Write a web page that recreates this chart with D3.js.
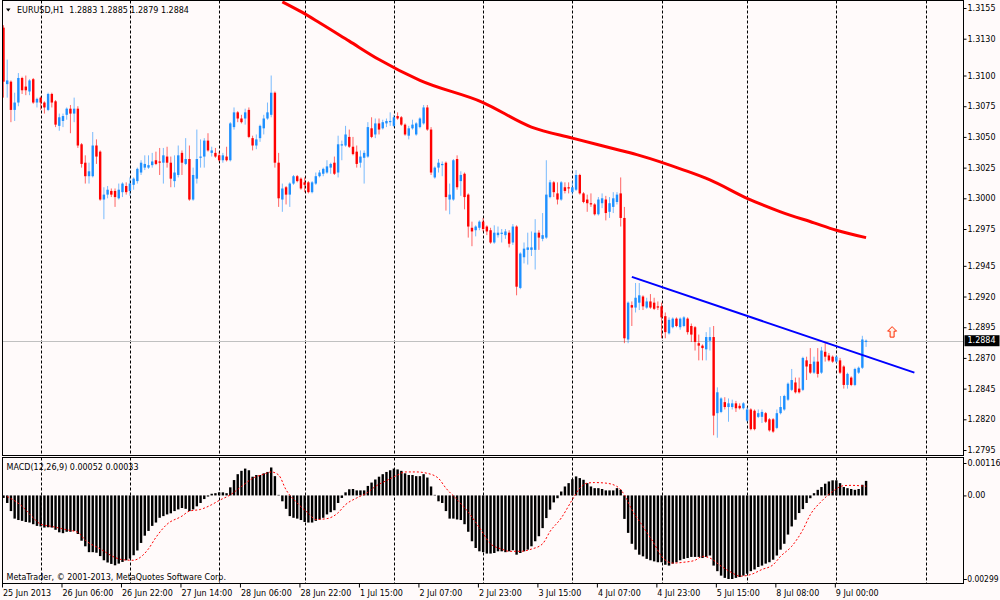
<!DOCTYPE html>
<html>
<head>
<meta charset="utf-8">
<script src="https://cdn.jsdelivr.net/npm/d3@7"></script>
<style>
  body { margin: 0; background: #fffafa; }
  svg text { font-family: Tahoma, "DejaVu Sans", sans-serif; font-size: 8px; fill: #000; }
</style>
</head>
<body>
<svg id="chart" width="1000" height="600"></svg>
<script>
// EURUSD H1, 233 bars from 25 Jun 14:00 to 9 Jul 08:00
const opens = [
  1.3139,1.3093,1.3095,1.3072,1.3078,1.3098,1.3091,1.3087,1.3097,1.3078,
  1.3082,1.3078,1.3072,1.3085,1.3079,1.3059,1.3063,1.3068,1.3073,1.3069,
  1.3073,1.3044,1.3029,1.3018,1.3018,1.3043,1.3038,1.2999,1.3003,1.3006,
  1.3006,1.3000,1.3005,1.3010,1.3006,1.3011,1.3014,1.3021,1.3025,1.3025,
  1.3027,1.3031,1.3030,1.3029,1.3034,1.3029,1.3014,1.3019,1.3037,1.3028,
  1.3032,1.2999,1.3016,1.3033,1.3034,1.3047,1.3037,1.3037,1.3035,1.3031,
  1.3034,1.3031,1.3058,1.3070,1.3065,1.3065,1.3072,1.3049,1.3043,1.3049,
  1.3057,1.3065,1.3068,1.3086,1.3029,1.2999,1.3009,1.3003,1.3012,1.3018,
  1.3016,1.3013,1.3013,1.3005,1.3012,1.3018,1.3020,1.3021,1.3025,1.3029,
  1.3021,1.3043,1.3043,1.3050,1.3042,1.3038,1.3029,1.3033,1.3034,1.3057,
  1.3052,1.3061,1.3057,1.3061,1.3062,1.3059,1.3067,1.3066,1.3060,1.3051,
  1.3057,1.3052,1.3058,1.3061,1.3074,1.3056,1.3017,1.3025,1.3027,1.3029,
  1.2999,1.2999,1.3032,1.3014,1.3020,1.3003,1.2976,1.2974,1.2976,1.2981,
  1.2977,1.2974,1.2964,1.2970,1.2971,1.2970,1.2972,1.2964,1.2977,1.2927,
  1.2952,1.2958,1.2958,1.2958,1.2972,1.2967,1.2968,1.3001,1.3013,1.3004,
  1.2999,1.3009,1.3009,1.3005,1.3007,1.3019,1.3004,1.2999,1.2996,1.2995,
  1.2987,1.2996,1.2999,1.2989,1.2993,1.2997,1.3004,1.2984,1.2885,1.2913,
  1.2911,1.2915,1.2920,1.2911,1.2916,1.2915,1.2912,1.2912,1.2904,1.2890,
  1.2895,1.2902,1.2895,1.2896,1.2902,1.2896,1.2895,1.2882,1.2880,1.2877,
  1.2884,1.2887,1.2825,1.2826,1.2834,1.2830,1.2830,1.2833,1.2831,1.2829,
  1.2819,1.2828,1.2827,1.2822,1.2822,1.2825,1.2820,1.2820,1.2813,1.2825,
  1.2828,1.2836,1.2844,1.2850,1.2845,1.2844,1.2868,1.2865,1.2858,1.2867,
  1.2858,1.2875,1.2872,1.2871,1.2867,1.2868,1.2863,1.2848,1.2854,1.2848,
  1.2858,1.2862,1.2883
];
const highs = [
  1.3141,1.3113,1.3096,1.3086,1.3102,1.3099,1.3100,1.3097,1.3098,1.3082,
  1.3083,1.3079,1.3086,1.3086,1.3080,1.3069,1.3069,1.3074,1.3076,1.3082,
  1.3075,1.3045,1.3035,1.3029,1.3054,1.3048,1.3039,1.3009,1.3010,1.3008,
  1.3008,1.3012,1.3013,1.3013,1.3017,1.3017,1.3025,1.3031,1.3035,1.3035,
  1.3037,1.3038,1.3041,1.3041,1.3042,1.3034,1.3035,1.3043,1.3039,1.3049,
  1.3043,1.3025,1.3056,1.3048,1.3049,1.3053,1.3042,1.3041,1.3038,1.3037,
  1.3042,1.3062,1.3074,1.3071,1.3068,1.3073,1.3074,1.3051,1.3052,1.3060,
  1.3068,1.3078,1.3100,1.3087,1.3037,1.3012,1.3010,1.3013,1.3019,1.3019,
  1.3017,1.3017,1.3014,1.3014,1.3021,1.3023,1.3025,1.3031,1.3029,1.3034,
  1.3051,1.3047,1.3059,1.3056,1.3050,1.3043,1.3039,1.3039,1.3062,1.3066,
  1.3065,1.3065,1.3064,1.3065,1.3070,1.3068,1.3070,1.3067,1.3061,1.3059,
  1.3064,1.3062,1.3066,1.3076,1.3076,1.3058,1.3026,1.3032,1.3030,1.3030,
  1.3012,1.3032,1.3035,1.3022,1.3021,1.3004,1.2981,1.2978,1.2982,1.2984,
  1.2978,1.2976,1.2978,1.2977,1.2975,1.2975,1.2974,1.2979,1.2978,1.2956,
  1.2964,1.2972,1.2973,1.2983,1.2974,1.2988,1.3031,1.3015,1.3014,1.3013,
  1.3014,1.3013,1.3013,1.3014,1.3023,1.3020,1.3005,1.3003,1.3004,1.2996,
  1.3001,1.3004,1.3002,1.3001,1.3005,1.3005,1.3017,1.2993,1.2916,1.2916,
  1.2931,1.2931,1.2921,1.2919,1.2922,1.2919,1.2916,1.2915,1.2907,1.2903,
  1.2903,1.2903,1.2903,1.2904,1.2903,1.2898,1.2896,1.2889,1.2881,1.2891,
  1.2895,1.2896,1.2846,1.2838,1.2838,1.2837,1.2836,1.2835,1.2833,1.2834,
  1.2830,1.2829,1.2828,1.2828,1.2828,1.2826,1.2821,1.2821,1.2828,1.2839,
  1.2840,1.2850,1.2861,1.2854,1.2854,1.2871,1.2871,1.2878,1.2871,1.2878,
  1.2879,1.2882,1.2874,1.2872,1.2872,1.2870,1.2864,1.2858,1.2855,1.2862,
  1.2863,1.2888,1.2885
];
const lows = [
  1.3082,1.3082,1.3062,1.3063,1.3075,1.3085,1.3084,1.3084,1.3077,1.3074,
  1.3072,1.3069,1.3071,1.3074,1.3058,1.3055,1.3058,1.3064,1.3053,1.3062,
  1.3041,1.3025,1.3012,1.3012,1.3017,1.3028,1.2998,1.2983,1.3000,1.3001,
  1.2993,1.2999,1.3001,1.3003,1.3002,1.3007,1.3012,1.3019,1.3023,1.3024,
  1.3025,1.3027,1.3019,1.3012,1.3025,1.3009,1.3009,1.3017,1.3019,1.3027,
  1.2998,1.2998,1.3012,1.3025,1.3025,1.3038,1.3034,1.3033,1.3030,1.3029,
  1.3030,1.3030,1.3056,1.3062,1.3061,1.3060,1.3049,1.3039,1.3040,1.3046,
  1.3052,1.3064,1.3066,1.3025,1.2993,1.2989,1.2995,1.2993,1.3011,1.3013,
  1.3007,1.3005,1.3004,1.3004,1.3011,1.3017,1.3018,1.3020,1.3020,1.3019,
  1.3017,1.3031,1.3042,1.3041,1.3035,1.3025,1.3025,1.3012,1.3033,1.3049,
  1.3049,1.3052,1.3056,1.3058,1.3059,1.3058,1.3064,1.3059,1.3051,1.3048,
  1.3056,1.3051,1.3057,1.3060,1.3055,1.3019,1.3016,1.3021,1.3018,1.2990,
  1.2987,1.2998,1.3007,1.3002,1.2991,1.2968,1.2961,1.2969,1.2974,1.2973,
  1.2970,1.2963,1.2963,1.2968,1.2964,1.2967,1.2960,1.2962,1.2921,1.2926,
  1.2947,1.2946,1.2953,1.2942,1.2958,1.2965,1.2967,1.3000,1.3001,1.2995,
  1.2998,1.3004,1.3004,1.3003,1.3006,1.3003,1.2996,1.2989,1.2993,1.2986,
  1.2986,1.2992,1.2982,1.2984,1.2988,1.2995,1.2977,1.2882,1.2882,1.2896,
  1.2907,1.2909,1.2909,1.2910,1.2910,1.2909,1.2909,1.2886,1.2886,1.2889,
  1.2894,1.2895,1.2893,1.2895,1.2889,1.2883,1.2876,1.2868,1.2868,1.2868,
  1.2876,1.2807,1.2805,1.2825,1.2828,1.2818,1.2828,1.2826,1.2828,1.2828,
  1.2818,1.2811,1.2811,1.2821,1.2817,1.2817,1.2810,1.2809,1.2812,1.2824,
  1.2827,1.2835,1.2843,1.2841,1.2841,1.2843,1.2852,1.2857,1.2857,1.2854,
  1.2857,1.2867,1.2867,1.2866,1.2866,1.2857,1.2845,1.2845,1.2847,1.2847,
  1.2857,1.2861,1.2879
];
const closes = [
  1.3095,1.3096,1.3072,1.3078,1.3098,1.3088,1.3088,1.3096,1.3078,1.3081,
  1.3078,1.3074,1.3085,1.3078,1.3060,1.3066,1.3067,1.3073,1.3069,1.3073,
  1.3043,1.3028,1.3018,1.3022,1.3043,1.3034,1.2999,1.3003,1.3007,1.3003,
  1.3001,1.3007,1.3012,1.3005,1.3012,1.3016,1.3024,1.3029,1.3028,1.3027,
  1.3030,1.3028,1.3029,1.3035,1.3029,1.3016,1.3021,1.3035,1.3029,1.3032,
  1.2999,1.3019,1.3032,1.3034,1.3047,1.3039,1.3039,1.3034,1.3031,1.3035,
  1.3031,1.3061,1.3070,1.3065,1.3062,1.3070,1.3050,1.3043,1.3048,1.3059,
  1.3065,1.3070,1.3086,1.3029,1.3000,1.3008,1.3003,1.3012,1.3018,1.3014,
  1.3008,1.3011,1.3005,1.3013,1.3018,1.3021,1.3024,1.3026,1.3028,1.3020,
  1.3044,1.3044,1.3052,1.3042,1.3036,1.3028,1.3034,1.3037,1.3058,1.3050,
  1.3061,1.3056,1.3062,1.3063,1.3063,1.3066,1.3065,1.3060,1.3052,1.3057,
  1.3060,1.3061,1.3065,1.3074,1.3056,1.3021,1.3025,1.3029,1.3028,1.3001,
  1.3003,1.3031,1.3009,1.3019,1.3001,1.2977,1.2973,1.2977,1.2981,1.2975,
  1.2973,1.2964,1.2972,1.2972,1.2972,1.2973,1.2963,1.2977,1.2928,1.2955,
  1.2959,1.2960,1.2960,1.2972,1.2968,1.2970,1.3003,1.3013,1.3005,1.2999,
  1.3013,1.3006,1.3008,1.3009,1.3019,1.3004,1.2997,1.2996,1.2995,1.2987,
  1.2999,1.3000,1.2988,1.2996,1.3000,1.3003,1.2984,1.2886,1.2915,1.2911,
  1.2919,1.2921,1.2912,1.2916,1.2911,1.2910,1.2911,1.2903,1.2891,1.2901,
  1.2902,1.2896,1.2902,1.2903,1.2891,1.2889,1.2883,1.2880,1.2878,1.2887,
  1.2887,1.2823,1.2842,1.2837,1.2830,1.2833,1.2833,1.2829,1.2829,1.2833,
  1.2828,1.2812,1.2812,1.2825,1.2826,1.2818,1.2811,1.2810,1.2825,1.2830,
  1.2839,1.2849,1.2852,1.2842,1.2842,1.2870,1.2863,1.2858,1.2867,1.2857,
  1.2876,1.2871,1.2868,1.2867,1.2871,1.2858,1.2848,1.2857,1.2848,1.2861,
  1.2862,1.2885,1.2884
];

// MACD(12,26,9) main line per bar, in units of 0.00001
const macdMain = [
  -9,-27,-56,-83,-88,-91,-95,-97,-103,-109,
  -111,-115,-114,-115,-123,-132,-135,-130,-130,-127,
  -138,-162,-182,-203,-203,-205,-217,-232,-240,-245,
  -250,-244,-238,-232,-226,-214,-197,-170,-144,-127,
  -109,-97,-80,-74,-68,-64,-56,-50,-45,-48,
  -56,-50,-39,-27,-13,-4,6,8,11,11,
  8,29,55,76,88,96,90,67,73,73,
  79,84,100,69,2,-21,-48,-74,-80,-83,
  -88,-95,-97,-97,-91,-86,-80,-68,-60,-53,
  -27,-9,11,22,23,18,18,18,34,46,
  57,67,76,84,90,96,93,88,79,73,
  73,69,69,76,64,32,2,-21,-27,-56,
  -83,-83,-86,-88,-103,-130,-164,-188,-200,-203,
  -208,-208,-206,-200,-200,-203,-200,-196,-212,-206,
  -200,-194,-182,-164,-146,-117,-81,-51,-25,-10,
  14,32,44,58,68,62,56,44,32,26,
  26,23,18,18,18,26,20,-84,-134,-173,
  -194,-212,-218,-227,-232,-236,-239,-239,-248,-251,
  -244,-239,-232,-227,-224,-220,-220,-220,-224,-220,
  -215,-251,-271,-287,-295,-299,-299,-295,-292,-287,
  -280,-271,-265,-256,-251,-244,-239,-230,-215,-194,
  -173,-140,-111,-87,-63,-49,-27,-10,8,20,
  30,42,50,54,54,44,30,26,23,20,
  23,38,52
];
// signal line, [bar, value in 0.00001]
const macdSignal = [
  [1,-4],[5,-39],[8,-80],[10,-103],[13,-111],[17,-123],[20,-132],[22,-160],[26,-191],
  [30,-222],[32,-230],[35,-232],[36,-228],[39,-191],[41,-150],[44,-103],[48,-74],
  [50,-56],[53,-50],[56,-33],[58,-18],[61,2],[64,32],[67,61],[70,76],[72,84],[74,73],
  [76,20],[79,-27],[82,-64],[84,-86],[87,-83],[90,-62],[92,-33],[95,-9],[98,11],
  [100,32],[103,53],[106,73],[108,84],[111,84],[114,79],[117,61],[119,26],[122,-15],
  [125,-60],[128,-115],[131,-173],[134,-192],[136,-200],[139,-200],[142,-192],
  [145,-173],[147,-129],[150,-81],[153,-15],[155,26],[157,44],[159,46],[162,44],
  [165,32],[167,2],[169,-51],[172,-111],[175,-173],[177,-218],[180,-242],[183,-239],
  [186,-232],[188,-218],[190,-224],[193,-253],[196,-277],[198,-289],[201,-283],
  [204,-265],[207,-248],[209,-218],[212,-182],[215,-123],[217,-69],[220,-21],
  [223,14],[226,35],[228,36],[231,34],[232,33]
];

// red moving average, [bar, price]
const maLine = [
  [75,1.3160],[80,1.3152],[85,1.3143],[93,1.3128],[101,1.3113],[112,1.3096],
  [129,1.3078],[142,1.3058],[153,1.3049],[166,1.3039],[171,1.3035],[183,1.3023],
  [190,1.3015],[200,1.3000],[209,1.2989],[218,1.2980],[224,1.2974],[232,1.2968]
];
// blue trend line, [bar, price]
const trendLine = [[169,1.2936],[245,1.2858]];
const arrowMark = [239,1.2891];
const lastPrice = 1.2884;

const priceTicks = [1.3155,1.3130,1.3100,1.3075,1.3050,1.3025,1.3000,1.2975,1.2945,1.2920,1.2895,1.2870,1.2845,1.2820,1.2795];
const macdTicks = [0.00116, 0, -0.00299];
const macdTickLabels = ['0.00116', '0.00', '-0.00299'];
const timeBars = [0,16,32,48,64,80,96,112,128,144,160,176,192,208,224];
const timeLabels = ['25 Jun 2013','26 Jun 06:00','26 Jun 22:00','27 Jun 14:00','28 Jun 06:00',
  '28 Jun 22:00','1 Jul 15:00','2 Jul 07:00','2 Jul 23:00','3 Jul 15:00','4 Jul 07:00',
  '4 Jul 23:00','5 Jul 15:00','8 Jul 08:00','9 Jul 00:00'];
const daySeparators = [10,34,58,81,105,129,153,177,200,224,248];

// layout
const left = 2.5, right = 963.5;
const pTop = 0.5, pBottom = 455.5;
const mTop = 457.5, mBottom = 583.5;
const bull = '#1e90ff', bear = '#ff0000';

const svg = d3.select('#chart');

const x = d3.scaleLinear().domain([0, 232]).range([3.5, 3.5 + 232 * 3.718]);
const y = d3.scaleLinear().domain([1.2795, 1.3155]).range([450, 8]);
const ym = d3.scaleLinear().domain([-0.00299, 0.00116]).range([579, 463]);

svg.append('rect').attr('width', 1000).attr('height', 600).attr('fill', '#fffafa');

const defs = svg.append('defs');
defs.append('clipPath').attr('id', 'clipP').append('rect')
  .attr('x', left).attr('y', pTop).attr('width', right - left).attr('height', pBottom - pTop);
defs.append('clipPath').attr('id', 'clipM').append('rect')
  .attr('x', left).attr('y', mTop).attr('width', right - left).attr('height', mBottom - mTop);

// day separators
const sepG = svg.append('g').attr('stroke', '#000').attr('stroke-dasharray', '3,2');
daySeparators.forEach(b => {
  const sx = Math.round(x(b)) + 0.5;
  sepG.append('line').attr('x1', sx).attr('x2', sx).attr('y1', pTop).attr('y2', pBottom);
  sepG.append('line').attr('x1', sx).attr('x2', sx).attr('y1', mTop).attr('y2', mBottom);
});

// current price line
svg.append('line')
  .attr('x1', left).attr('x2', right)
  .attr('y1', Math.round(y(lastPrice)) + 0.5).attr('y2', Math.round(y(lastPrice)) + 0.5)
  .attr('stroke', '#c0c0c0');

// candles
const candleG = svg.append('g').attr('clip-path', 'url(#clipP)');
const bars = candleG.selectAll('g.bar').data(opens.map((o, i) => i)).enter().append('g');
bars.append('line')
  .attr('x1', i => x(i)).attr('x2', i => x(i))
  .attr('y1', i => y(highs[i])).attr('y2', i => y(lows[i]))
  .attr('stroke', i => closes[i] >= opens[i] ? bull : bear)
  .attr('stroke-opacity', 0.6);
bars.append('rect')
  .attr('x', i => x(i) - 1.2).attr('width', 2.4)
  .attr('y', i => Math.min(y(opens[i]), y(closes[i])))
  .attr('height', i => Math.max(1, Math.abs(y(opens[i]) - y(closes[i]))))
  .attr('fill', i => closes[i] >= opens[i] ? bull : bear);

// moving average
const priceLine = d3.line().x(d => x(d[0])).y(d => y(d[1])).curve(d3.curveMonotoneX);
candleG.append('path').datum(maLine)
  .attr('d', priceLine).attr('fill', 'none').attr('stroke', '#ff0000').attr('stroke-width', 3);

// trend line
svg.append('path').datum(trendLine)
  .attr('d', d3.line().x(d => x(d[0])).y(d => y(d[1])))
  .attr('fill', 'none').attr('stroke', '#0000ff').attr('stroke-width', 2);

// arrow object
const ax = x(arrowMark[0]), ay = y(arrowMark[1]);
svg.append('path')
  .attr('d', `M${ax},${ay - 5.5}L${ax + 4.5},${ay - 1}L${ax + 2},${ay - 1}L${ax + 2},${ay + 5}` +
             `L${ax - 2},${ay + 5}L${ax - 2},${ay - 1}L${ax - 4.5},${ay - 1}Z`)
  .attr('fill', '#fff0e6').attr('stroke', '#ff2a00').attr('stroke-width', 1);

// MACD histogram
const macdG = svg.append('g').attr('clip-path', 'url(#clipM)');
macdG.selectAll('rect').data(macdMain).enter().append('rect')
  .attr('x', (v, i) => x(i) - 1.2).attr('width', 2.4)
  .attr('y', v => Math.min(ym(v * 1e-5), ym(0)))
  .attr('height', v => Math.max(0.5, Math.abs(ym(v * 1e-5) - ym(0))))
  .attr('fill', '#000');
macdG.append('path').datum(macdSignal)
  .attr('d', d3.line().x(d => x(d[0])).y(d => ym(d[1] * 1e-5)).curve(d3.curveMonotoneX))
  .attr('fill', 'none').attr('stroke', '#ff0000').attr('stroke-width', 1)
  .attr('stroke-dasharray', '2,2');

// panel frames
[[pTop, pBottom], [mTop, mBottom]].forEach(([t, b]) => {
  svg.append('rect').attr('x', left).attr('y', t).attr('width', right - left).attr('height', b - t)
    .attr('fill', 'none').attr('stroke', '#000');
});

// price axis
const yAxis = svg.append('g').attr('transform', `translate(${right},0)`)
  .call(d3.axisRight(y).tickValues(priceTicks).tickSize(3).tickPadding(1).tickFormat(d3.format('.4f')));
yAxis.select('.domain').remove();

// last price box
svg.append('rect').attr('x', right + 1).attr('y', y(lastPrice) - 5.5).attr('width', 35).attr('height', 11)
  .attr('fill', '#000');
svg.append('text').attr('x', right + 4).attr('y', y(lastPrice)).attr('dy', '0.33em')
  .style('fill', '#fff').text(d3.format('.4f')(lastPrice));

// MACD axis
const mAxis = svg.append('g').attr('transform', `translate(${right},0)`)
  .call(d3.axisRight(ym).tickValues(macdTicks).tickSize(3).tickPadding(1)
    .tickFormat((d, i) => macdTickLabels[i]));
mAxis.select('.domain').remove();
// the long negative label has to fit inside the 36px strip
mAxis.selectAll('text').filter(d => d < 0)
  .attr('x', 1).attr('textLength', 34).attr('lengthAdjust', 'spacingAndGlyphs');

// time axis
const xAxis = svg.append('g').attr('transform', `translate(0,${mBottom})`)
  .call(d3.axisBottom(x).tickValues(timeBars).tickSize(4).tickFormat((d, i) => timeLabels[i]));
xAxis.select('.domain').remove();
xAxis.selectAll('text').attr('text-anchor', 'start').attr('dx', -1);
xAxis.selectAll('line').attr('transform', 'translate(-1.5,0)');

// titles
svg.append('path').attr('d', 'M6,8.5L10.5,8.5L8.25,11.5Z').attr('fill', '#000');
svg.append('text').attr('x', 17).attr('y', 13).style('white-space', 'pre')
  .text('EURUSD,H1  1.2883 1.2885 1.2879 1.2884');
svg.append('text').attr('x', 6.5).attr('y', 469.5).text('MACD(12,26,9) 0.00052 0.00033');
svg.append('text').attr('x', 6.5).attr('y', 579.5).text('MetaTrader, \u00a9 2001-2013, MetaQuotes Software Corp.');
</script>
</body>
</html>
